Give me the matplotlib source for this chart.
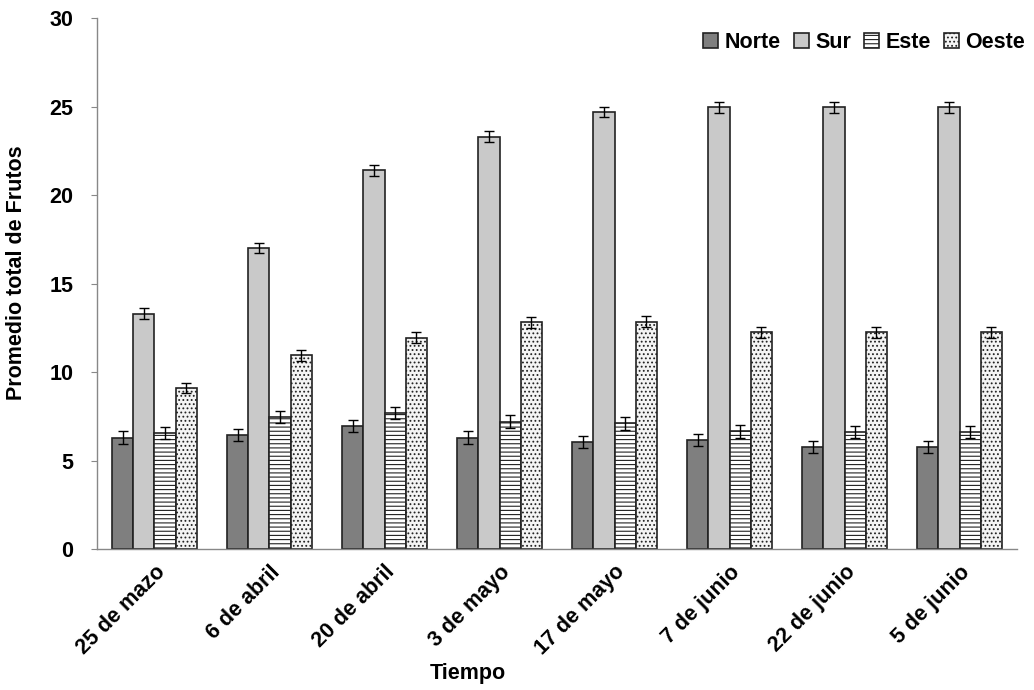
import matplotlib
matplotlib.use("Agg")
import matplotlib.pyplot as plt
import numpy as np

plt.rcParams['font.family'] = ['Liberation Sans', 'DejaVu Sans']
plt.rcParams['hatch.linewidth'] = 0.8

categories = ["25 de mazo", "6 de abril", "20 de abril", "3 de mayo",
              "17 de mayo", "7 de junio", "22 de junio", "5 de junio"]
norte = [6.3, 6.45, 6.95, 6.3, 6.05, 6.15, 5.75, 5.75]
sur = [13.3, 17.0, 21.4, 23.3, 24.7, 24.95, 24.95, 24.95]
este = [6.55, 7.45, 7.7, 7.2, 7.1, 6.65, 6.6, 6.6]
oeste = [9.1, 10.95, 11.95, 12.8, 12.85, 12.25, 12.25, 12.25]
err_norte = [0.35] * 8
err_sur = [0.3] * 8
err_este = [0.35] * 8
err_oeste = [0.3] * 8

series = [
    ("Norte", norte, err_norte, dict(facecolor="#7f7f7f", hatch=None)),
    ("Sur", sur, err_sur, dict(facecolor="#c9c9c9", hatch=None)),
    ("Este", este, err_este, dict(facecolor="white", hatch="----")),
    ("Oeste", oeste, err_oeste, dict(facecolor="#f4f4f4", hatch="....")),
]

fs = 15.5
fig = plt.figure(figsize=(10.34, 6.9), dpi=100)
ax = fig.add_axes([0.0938, 0.2043, 0.8898, 0.7696])

x = np.arange(len(categories))
w = 0.183
for i, (name, vals, errs, st) in enumerate(series):
    pos = x + (i - 1.5) * w
    ax.bar(pos, vals, width=w, facecolor=st["facecolor"], edgecolor="#222222",
           linewidth=1.2, hatch=st["hatch"], label=name)
    ax.errorbar(pos, vals, yerr=errs, fmt="none", ecolor="black",
                elinewidth=1.0, capsize=3.5, capthick=1.0)

ax.set_xlim(-0.5, len(categories) - 0.5)
ax.set_ylim(0, 30)
ax.set_yticks(np.arange(0, 31, 5))
ax.set_xticks(x)
ax.set_xticklabels(categories, rotation=45, ha="right", rotation_mode="anchor",
                   fontsize=fs, fontweight="bold")
for lab in ax.get_yticklabels():
    lab.set_fontsize(fs)
    lab.set_fontweight("bold")
ax.tick_params(axis="x", length=0, pad=9)
ax.tick_params(axis="y", length=4, color="#888888", pad=13)
for s in ["top", "right"]:
    ax.spines[s].set_visible(False)
for s in ["left", "bottom"]:
    ax.spines[s].set_color("#888888")
    ax.spines[s].set_linewidth(1.0)

ax.set_ylabel("Promedio total de Frutos", fontsize=fs, fontweight="bold", va="center")
ax.yaxis.set_label_coords(-0.087, 0.52)
ax.set_xlabel("Tiempo", fontsize=fs, fontweight="bold", va="center")
ax.xaxis.set_label_coords(0.403, -0.2335)

leg = ax.legend(loc="upper right", ncol=4, frameon=False,
                prop=dict(weight="bold", size=fs), handlelength=0.7,
                handleheight=0.7, handletextpad=0.3, columnspacing=0.6,
                borderaxespad=0.0, bbox_to_anchor=(1.018, 0.99))

fig.savefig("out.png", dpi=100)
